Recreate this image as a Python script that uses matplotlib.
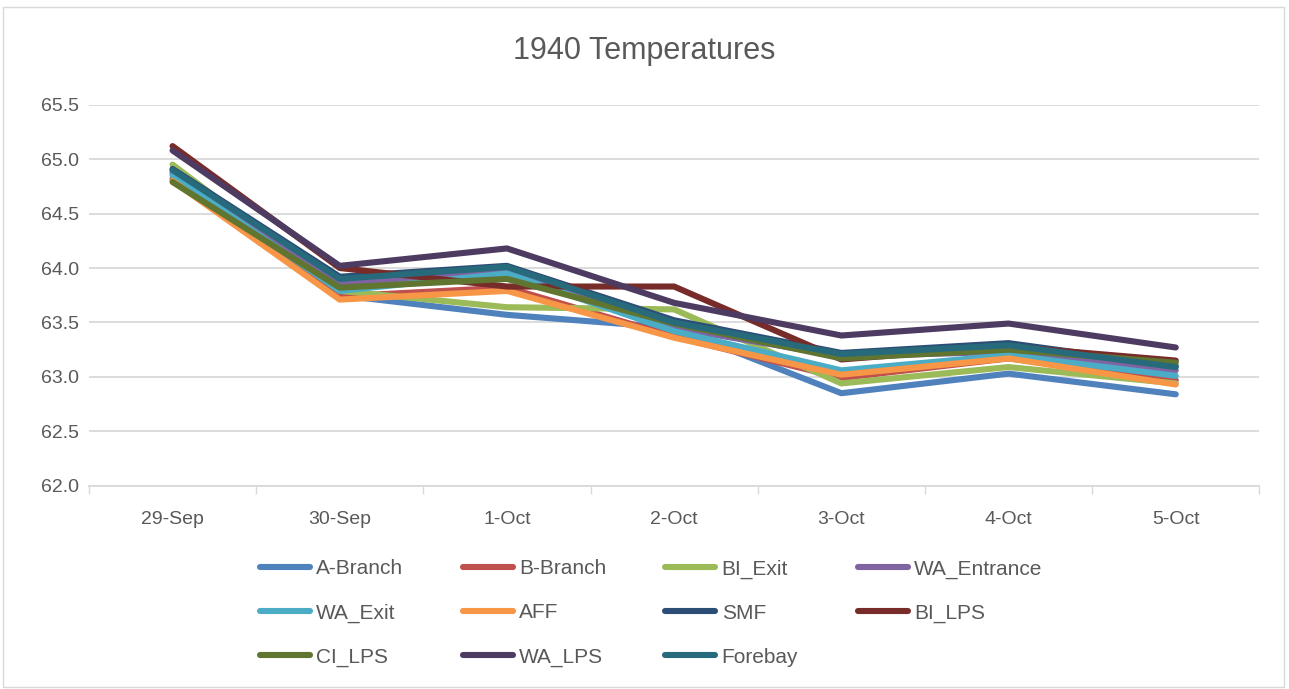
import matplotlib.pyplot as plt
from matplotlib.patches import Rectangle

plt.rcParams['font.family'] = ['Liberation Sans', 'DejaVu Sans']

dates = ['29-Sep', '30-Sep', '1-Oct', '2-Oct', '3-Oct', '4-Oct', '5-Oct']

a_branch = [64.89, 63.75, 63.57, 63.45, 62.85, 63.03, 62.84]
b_branch = [64.82, 63.74, 63.82, 63.37, 62.99, 63.17, 62.97]
bi_exit = [64.95, 63.79, 63.64, 63.62, 62.94, 63.09, 62.94]
wa_entrance = [64.87, 63.86, 63.97, 63.45, 63.19, 63.23, 63.06]
wa_exit = [64.85, 63.79, 63.95, 63.42, 63.06, 63.20, 63.01]
aff = [64.80, 63.71, 63.79, 63.36, 63.02, 63.17, 62.93]
smf = [64.91, 63.92, 64.02, 63.52, 63.22, 63.31, 63.10]
bi_lps = [65.12, 64.00, 63.83, 63.83, 63.16, 63.28, 63.15]
ci_lps = [64.79, 63.82, 63.90, 63.49, 63.17, 63.25, 63.13]
wa_lps = [65.08, 64.02, 64.18, 63.68, 63.38, 63.49, 63.27]
forebay = [64.90, 63.90, 64.01, 63.50, 63.21, 63.29, 63.09]

names = ['A-Branch', 'B-Branch', 'BI_Exit', 'WA_Entrance', 'WA_Exit', 'AFF',
         'SMF', 'BI_LPS', 'CI_LPS', 'WA_LPS', 'Forebay']
series = [a_branch, b_branch, bi_exit, wa_entrance, wa_exit, aff,
          smf, bi_lps, ci_lps, wa_lps, forebay]
colors = ['#4F81BD', '#C0504D', '#9BBB59', '#8064A2', '#4BACC6', '#F79646',
          '#2C4D75', '#772C2A', '#5F7530', '#4D3B62', '#276A7C']

fig = plt.figure(figsize=(12.89, 6.89), dpi=100)
ax = fig.add_axes([0.069, 0.295, 0.908, 0.553])

x = list(range(len(dates)))
handles = []
for name, vals, c in zip(names, series, colors):
    h, = ax.plot(x, vals, color=c, lw=4.4, solid_capstyle='round',
                 solid_joinstyle='round', label=name)
    handles.append(h)

ax.set_xlim(-0.5, len(dates) - 0.5)
ax.set_ylim(62.0, 65.5)
ax.set_yticks([62.0, 62.5, 63.0, 63.5, 64.0, 64.5, 65.0, 65.5])
ax.set_yticklabels([f'{v:.1f}' for v in ax.get_yticks()])
ax.set_xticks(x)
ax.set_xticklabels(dates)
ax.set_xticks([i - 0.5 for i in range(len(dates) + 1)], minor=True)
ax.tick_params(axis='x', which='major', length=0, pad=18, labelsize=14, labelcolor='#595959')
ax.tick_params(axis='x', which='minor', length=6, color='#D9D9D9', width=1)
ax.tick_params(axis='y', length=0, pad=7, labelsize=14, labelcolor='#595959')
ax.grid(axis='y', color='#D9D9D9', lw=1.3)
ax.set_axisbelow(True)
for s in ['top', 'right', 'left']:
    ax.spines[s].set_visible(False)
ax.spines['bottom'].set_color('#D9D9D9')
ax.spines['bottom'].set_linewidth(1.3)

fig.text(0.5, 0.926, '1940 Temperatures', ha='center', va='center',
         fontsize=22, color='#595959')

# row-major order for the legend
order = []
for j in range(4):
    for i in range(3):
        k = i * 4 + j
        if k < len(handles):
            order.append(k)
fig.legend([handles[k] for k in order], [names[k] for k in order],
           loc='center', bbox_to_anchor=(0.505, 0.110), ncol=4, frameon=False,
           fontsize=15, labelcolor='#595959', handlelength=2.4, handletextpad=0.3,
           columnspacing=2.85, labelspacing=1.2)

fig.patches.append(Rectangle((0.002, 0.003), 0.994, 0.987, transform=fig.transFigure,
                             fill=False, edgecolor='#D9D9D9', lw=1))

fig.savefig('out.png', dpi=100)
